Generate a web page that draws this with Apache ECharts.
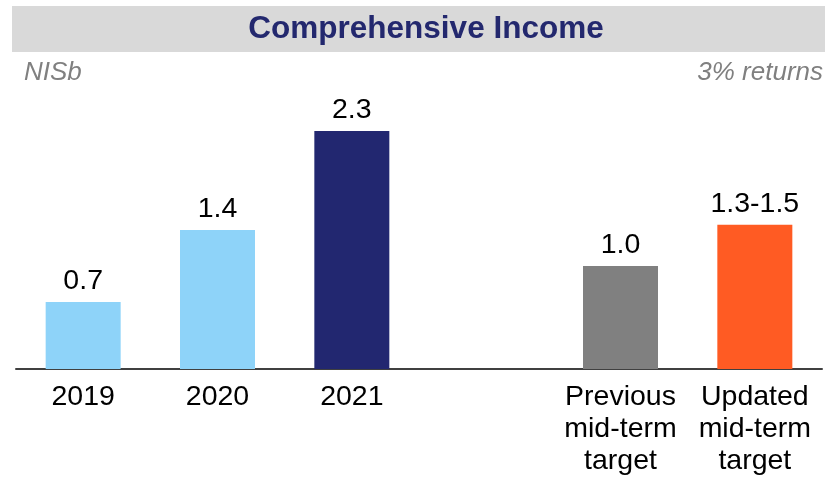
<!DOCTYPE html>
<html>
<head>
<meta charset="utf-8">
<script src="https://cdn.jsdelivr.net/npm/echarts@6/dist/echarts.min.js"></script>
<style>
html,body{margin:0;padding:0;background:#fff;}
#chart{width:825px;height:477px;}
</style>
</head>
<body>
<div id="chart"></div>
<script>
const categories = ['2019', '2020', '2021', '', 'Previous\nmid-term\ntarget', 'Updated\nmid-term\ntarget'];
const values = [0.65, 1.35, 2.31, null, 1.0, 1.4];
const valueLabels = ['0.7', '1.4', '2.3', '', '1.0', '1.3-1.5'];
const barColors = ['#8ED3F9', '#8ED3F9', '#222770', '#ffffff', '#808080', '#FF5B23'];

const chart = echarts.init(document.getElementById('chart'), null, {renderer: 'canvas'});
const font = 'Liberation Sans, Arial, sans-serif';

chart.setOption({
  animation: false,
  backgroundColor: '#ffffff',
  graphic: [
    {type: 'rect', left: 12, top: 6, shape: {width: 813, height: 46}, style: {fill: '#D9D9D9'}, z: -1},
    {type: 'text', x: 426, y: 29, style: {text: 'Comprehensive Income', fill: '#23286E', font: 'bold 31.5px ' + font, align: 'center', verticalAlign: 'middle'}},
    {type: 'text', x: 24, y: 73, style: {text: 'NISb', fill: '#808080', font: 'italic 26px ' + font, align: 'left', verticalAlign: 'middle'}},
    {type: 'text', x: 823, y: 73, style: {text: '3% returns', fill: '#808080', font: 'italic 26px ' + font, align: 'right', verticalAlign: 'middle'}}
  ],
  grid: {left: 16, right: 3, top: 60, bottom: 105, containLabel: false},
  xAxis: {
    type: 'category',
    data: categories,
    axisLine: {show: true, lineStyle: {color: '#404040', width: 2}},
    axisTick: {show: false},
    axisLabel: {color: '#000', fontSize: 28.5, fontFamily: font, lineHeight: 32, margin: 12, interval: 0}
  },
  yAxis: {
    type: 'value', min: 0, max: 3,
    show: false,
    splitLine: {show: false}
  },
  series: [{
    type: 'bar',
    barWidth: 75,
    data: values.map((v, i) => ({value: v, itemStyle: {color: barColors[i]}})),
    label: {
      show: true,
      position: 'top',
      distance: 6,
      color: '#000',
      fontSize: 28.5,
      fontFamily: font,
      formatter: p => valueLabels[p.dataIndex]
    }
  }]
});
</script>
</body>
</html>
